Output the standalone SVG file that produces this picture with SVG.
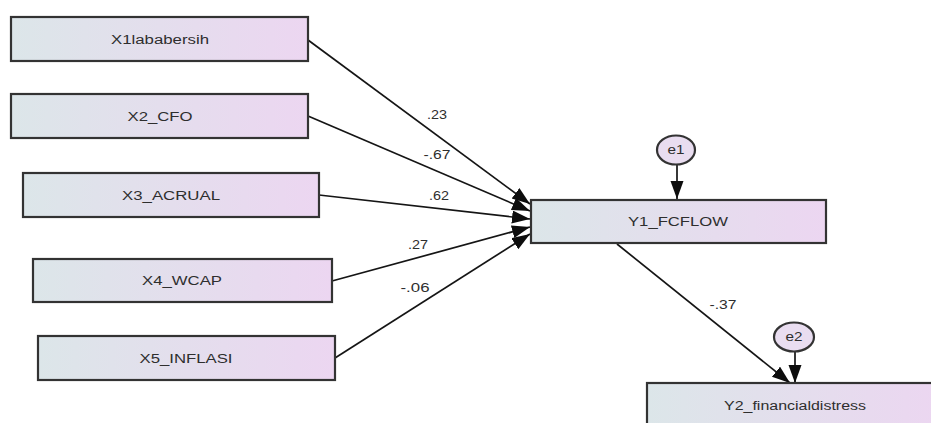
<svg xmlns="http://www.w3.org/2000/svg" width="931" height="423" viewBox="0 0 931 423">
<defs>
<linearGradient id="g" x1="0" y1="0" x2="1" y2="0">
<stop offset="0" stop-color="#dce6e9"/>
<stop offset="1" stop-color="#ecd6f1"/>
</linearGradient>
<marker id="ah" markerUnits="userSpaceOnUse" markerWidth="20" markerHeight="14" refX="18" refY="6.5" orient="auto">
<path d="M0,0 L18,6.5 L0,13 Z" fill="#0d0d0d"/>
</marker>
<style>
.box{fill:url(#g);stroke:#333;stroke-width:2.2}
.ell{fill:#e9ddf0;stroke:#333;stroke-width:2.2}
.t{font-family:"Liberation Sans",Arial,sans-serif;font-size:12px;fill:#2e2e2e;text-anchor:middle}
.lb{font-family:"Liberation Sans",Arial,sans-serif;font-size:12px;fill:#2e2e2e;text-anchor:middle}
.c{stroke:#151515;stroke-width:1.7;fill:none;marker-end:url(#ah)}
</style>
</defs>
<rect width="931" height="423" fill="#fff"/>
<g id="connectors">
<line class="c" x1="308" y1="40" x2="530" y2="204"/>
<line class="c" x1="308" y1="116" x2="530" y2="211"/>
<line class="c" x1="319" y1="195" x2="530" y2="219"/>
<line class="c" x1="332" y1="281" x2="530" y2="227"/>
<line class="c" x1="335" y1="358" x2="530" y2="234"/>
<line class="c" x1="677" y1="164" x2="677" y2="199"/>
<line class="c" x1="617" y1="244" x2="790" y2="383"/>
<line class="c" x1="795" y1="351" x2="795" y2="383"/>
<text class="lb" x="437" y="119" textLength="20" lengthAdjust="spacingAndGlyphs">.23</text>
<text class="lb" x="437" y="159" textLength="27" lengthAdjust="spacingAndGlyphs">-.67</text>
<text class="lb" x="439" y="200" textLength="20" lengthAdjust="spacingAndGlyphs">.62</text>
<text class="lb" x="418" y="249" textLength="20" lengthAdjust="spacingAndGlyphs">.27</text>
<text class="lb" x="415" y="292" textLength="29" lengthAdjust="spacingAndGlyphs">-.06</text>
<text class="lb" x="723" y="309" textLength="27" lengthAdjust="spacingAndGlyphs">-.37</text>
</g>
<g id="X1">
<rect class="box" x="11" y="17" width="297" height="44"/>
<text class="t" x="160" y="44" textLength="98" lengthAdjust="spacingAndGlyphs">X1lababersih</text>
</g>
<g id="X2">
<rect class="box" x="11" y="94" width="297" height="44"/>
<text class="t" x="160" y="121" textLength="65" lengthAdjust="spacingAndGlyphs">X2_CFO</text>
</g>
<g id="X3">
<rect class="box" x="23" y="173" width="296" height="44"/>
<text class="t" x="171" y="200" textLength="98" lengthAdjust="spacingAndGlyphs">X3_ACRUAL</text>
</g>
<g id="X4">
<rect class="box" x="33" y="259" width="299" height="43"/>
<text class="t" x="182" y="285" textLength="80" lengthAdjust="spacingAndGlyphs">X4_WCAP</text>
</g>
<g id="X5">
<rect class="box" x="38" y="336" width="297" height="44"/>
<text class="t" x="186" y="363" textLength="93" lengthAdjust="spacingAndGlyphs">X5_INFLASI</text>
</g>
<g id="Y1">
<rect class="box" x="531" y="200" width="295" height="43"/>
<text class="t" x="678" y="226" textLength="100" lengthAdjust="spacingAndGlyphs">Y1_FCFLOW</text>
</g>
<g id="e1">
<ellipse class="ell" cx="676" cy="150" rx="19" ry="14.5"/>
<text class="t" x="676" y="154" textLength="17" lengthAdjust="spacingAndGlyphs">e1</text>
</g>
<g id="Y2">
<rect class="box" x="647" y="383" width="296" height="44"/>
<text class="t" x="795" y="410" textLength="142" lengthAdjust="spacingAndGlyphs">Y2_financialdistress</text>
</g>
<g id="e2">
<ellipse class="ell" cx="794" cy="337" rx="20" ry="14.5"/>
<text class="t" x="794" y="341" textLength="17" lengthAdjust="spacingAndGlyphs">e2</text>
</g>
</svg>
